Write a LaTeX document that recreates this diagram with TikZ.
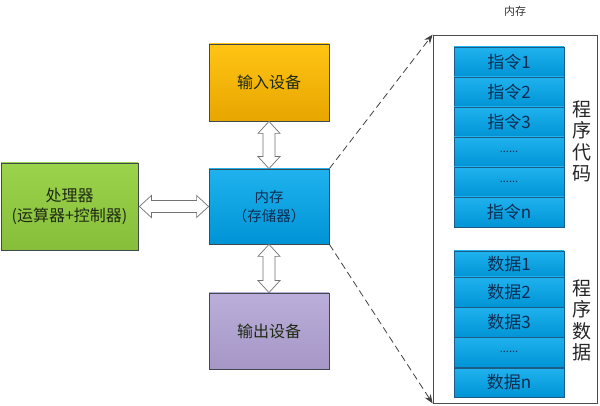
\documentclass[tikz,border=0pt]{standalone}
\usepackage{fontspec}
\setmainfont{Noto Sans CJK SC}
\usetikzlibrary{calc,arrows.meta}
\definecolor{gA}{HTML}{9CD34C}\definecolor{gB}{HTML}{86BE3A}
\definecolor{oA}{HTML}{FFC414}\definecolor{oB}{HTML}{E8A600}
\definecolor{bA}{HTML}{1FB2EE}\definecolor{bB}{HTML}{0094D6}
\definecolor{pA}{HTML}{BBAEDA}\definecolor{pB}{HTML}{A697C6}
\definecolor{txtdark}{HTML}{1E2A14}
\definecolor{txtblue}{HTML}{0E2D52}
\definecolor{edge}{HTML}{3F4A4F}
\definecolor{celledge}{HTML}{1D5C86}
\tikzset{
  box/.style={draw=edge, line width=0.8pt, inner sep=0pt, align=center, font=\fontsize{16}{20}\selectfont},
  cell/.style={draw=celledge, line width=0.7pt, inner sep=0pt, minimum width=110pt, top color=bA, bottom color=bB, text=txtblue, font=\fontsize{17}{19}\selectfont},
  dots/.style={font=\fontsize{11}{12}\selectfont},
  dbl/.style={draw=black!55, fill=white, line width=0.7pt, line join=miter},
  dashlink/.style={dashed, dash pattern=on 7pt off 4pt, draw=black!75, line width=0.8pt, -{Stealth[length=9pt,width=7pt]}},
  side/.style={align=center, font=\fontsize{19}{21.5}\selectfont, text=black!85},
}
\begin{document}
\begin{tikzpicture}[x=1pt,y=-1pt]
\useasboundingbox (0,0) rectangle (600,406);
% main boxes
\node[box, minimum width=137pt, minimum height=87pt, top color=gA, bottom color=gB, text=txtdark] (proc) at (69.5,206.5) {处理器\\(运算器+控制器)};
\node[box, minimum width=120pt, minimum height=77pt, top color=oA, bottom color=oB, text=txtdark] (inp) at (269,82.5) {输入设备};
\node[box, minimum width=120pt, minimum height=75pt, top color=bA, bottom color=bB, text=txtblue, font=\fontsize{14.5}{19}\selectfont] (mem) at (269,206.5) {内存\\（存储器）};
\node[box, minimum width=120pt, minimum height=76pt, top color=pA, bottom color=pB, text=txtdark] (outp) at (269,331) {输出设备};
% double arrows
\draw[dbl] (inp.south) -- ++(11,12) -- ++(-5,0) -- ($(mem.north)+(6,-12)$) -- ++(5,0) -- (mem.north) -- ++(-11,-12) -- ++(5,0) -- ($(inp.south)+(-6,12)$) -- ++(-5,0) -- cycle;
\draw[dbl] (mem.south) -- ++(11,12) -- ++(-5,0) -- ($(outp.north)+(6,-12)$) -- ++(5,0) -- (outp.north) -- ++(-11,-12) -- ++(5,0) -- ($(mem.south)+(-6,12)$) -- ++(-5,0) -- cycle;
\draw[dbl] ($(proc.east)+(1,0)$) coordinate (pe) -- ++(12,-11) -- ++(0,5) -- ($(mem.west)+(-12,-6)$) -- ++(0,-5) -- (mem.west) -- ++(-12,11) -- ++(0,-5) -- ($(pe)+(12,6)$) -- ++(0,5) -- cycle;
% big memory panel
\node[draw=black!70, line width=0.8pt, fill=white, minimum width=164pt, minimum height=368pt, inner sep=0pt] (big) at (515,219) {};
\node[font=\fontsize{11}{13}\selectfont, text=black!80] (title) at (515,11) {内存};
\draw[dashlink] (mem.north east) -- (big.north west);
\draw[dashlink] (mem.south east) -- (big.south west);
% instruction cells
\node[cell, minimum height=30pt] (c1) at (509,62) {指令1};
\node[cell, minimum height=30pt] (c2) at (509,92) {指令2};
\node[cell, minimum height=30pt] (c3) at (509,122) {指令3};
\node[cell, minimum height=30pt, dots] (c4) at (509,152) {\raisebox{-1pt}{......}};
\node[cell, minimum height=30pt, dots] (c5) at (509,182) {\raisebox{-1pt}{......}};
\node[cell, minimum height=30pt] (c6) at (509,212) {指令n};
% data cells
\node[cell, minimum height=26pt] (d1) at (509,264) {数据1};
\node[cell, minimum height=30pt] (d2) at (509,292) {数据2};
\node[cell, minimum height=30pt] (d3) at (509,322) {数据3};
\node[cell, minimum height=30pt, dots] (d4) at (509,352) {\raisebox{-1pt}{......}};
\node[cell, minimum height=29pt] (d5) at (509,382.5) {数据n};
% side labels
\node[side] (lab1) at (582,141.5) {程\\序\\代\\码};
\node[side] (lab2) at (582,320.5) {程\\序\\数\\据};
\end{tikzpicture}
\end{document}
